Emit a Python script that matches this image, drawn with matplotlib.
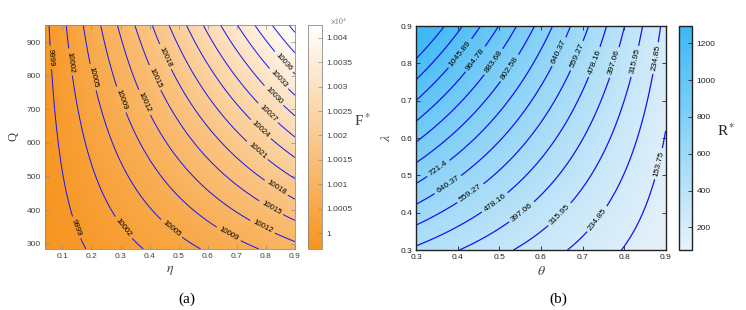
import numpy as np
import matplotlib
matplotlib.use("Agg")
import matplotlib.pyplot as plt
from matplotlib.colors import LinearSegmentedColormap

plt.rcParams["font.family"] = ["Liberation Sans", "DejaVu Sans"]
plt.rcParams["mathtext.fontset"] = "stix"

# ---------------------------------------------------------------------------
# panel (a): F* over eta and Q  (level lines follow eta*Q = const)
# ---------------------------------------------------------------------------
eta_range = [0.04, 0.9]
Q_range = [284, 952]
F_base = 9996.6          # F* ~ base + slope * eta * Q
F_slope = 0.0545
F_lim = [9996.8, 10042.6]
F_levels = [9999.4, 10002.45, 10005.5, 10008.6, 10011.6, 10014.7, 10017.8,
            10020.8, 10023.9, 10026.9, 10030.0, 10033.0, 10036.1, 10039.2, 10042.2]
F_labels = ["9999", "10002", "10005", "10009", "10012", "10015", "10018",
            "10021", "10024", "10027", "10030", "10033", "10036", "10039", "10042"]
F_ticks = [10000, 10005, 10010, 10015, 10020, 10025, 10030, 10035, 10040]
F_ticklabels = ["1", "1.0005", "1.001", "1.0015", "1.002", "1.0025", "1.003",
                "1.0035", "1.004"]
# (level index, eta, Q) where each label sits in the reference
F_label_spots = [(0, 0.054, 854), (0, 0.146, 348), (1, 0.116, 840), (1, 0.302, 343),
                 (2, 0.192, 795), (2, 0.462, 334), (3, 0.306, 730), (3, 0.676, 334),
                 (4, 0.382, 721), (4, 0.790, 352), (5, 0.417, 795), (5, 0.807, 393),
                 (6, 0.444, 854), (6, 0.824, 453), (7, 0.755, 566), (8, 0.762, 625),
                 (9, 0.779, 670), (10, 0.803, 724), (11, 0.817, 774), (12, 0.838, 828)]

# ---------------------------------------------------------------------------
# panel (b): R* over theta and lambda  (level lines follow lambda*(1-theta))
# ---------------------------------------------------------------------------
theta_range = [0.3, 0.9]
lam_range = [0.3, 0.9]
R_base = 25.0
R_slope = 2080.0
R_lim = [77, 1294]
R_levels = [153.75, 234.85, 315.95, 397.06, 478.16, 559.27, 640.37, 721.47,
            802.58, 883.68, 964.78, 1045.89, 1126.99, 1208.1]
R_labels = ["153.75", "234.85", "315.95", "397.06", "478.16", "559.27", "640.37",
            "721.4", "802.58", "883.68", "964.78", "1045.89", "1126.99", "1208.1"]
R_ticks = [200, 400, 600, 800, 1000, 1200]
# (level index, theta, lambda)
R_label_spots = [(11, 0.412, 0.822), (10, 0.453, 0.804), (9, 0.497, 0.796),
                 (8, 0.533, 0.782), (6, 0.651, 0.828), (5, 0.694, 0.818),
                 (4, 0.737, 0.801), (3, 0.783, 0.801), (2, 0.831, 0.804),
                 (1, 0.881, 0.814), (7, 0.357, 0.514), (6, 0.376, 0.474),
                 (5, 0.434, 0.447), (4, 0.489, 0.428), (3, 0.554, 0.402),
                 (2, 0.646, 0.394), (1, 0.730, 0.386), (0, 0.874, 0.533)]

ORANGE = LinearSegmentedColormap.from_list("orw", ["#F7941E", "#FFFFFF"])
SKY = LinearSegmentedColormap.from_list("sky", ["#E8F2FA", "#3BB8F6"])
LINE = "#1414F0"


def snap(cs, spots, xr, yr):
    # move each read label spot onto its own level line
    out = []
    for i, x, y in spots:
        v = cs.get_paths()[i].vertices
        d = ((v[:, 0] - x) / (xr[1] - xr[0])) ** 2 + ((v[:, 1] - y) / (yr[1] - yr[0])) ** 2
        out.append(tuple(v[np.argmin(d)]))
    return out


fig = plt.figure(figsize=(7.46, 3.10), dpi=100)

# ---- panel (a)
ax1 = fig.add_axes([0.0603, 0.197, 0.3351, 0.7226])
cax1 = fig.add_axes([0.4129, 0.197, 0.0188, 0.7226])
eta = np.linspace(eta_range[0], eta_range[1], 400)
Q = np.linspace(Q_range[0], Q_range[1], 400)
E, QQ = np.meshgrid(eta, Q)
F = F_base + F_slope * E * QQ
im1 = ax1.imshow(F, origin="lower", aspect="auto", cmap=ORANGE,
                 extent=[eta_range[0], eta_range[1], Q_range[0], Q_range[1]],
                 vmin=F_lim[0], vmax=F_lim[1], interpolation="bilinear")
cs1 = ax1.contour(E, QQ, F, levels=F_levels, colors=LINE, linewidths=0.7)
ax1.clabel(cs1, fmt=dict(zip(F_levels, F_labels)),
           manual=snap(cs1, F_label_spots, eta_range, Q_range),
           inline=True, inline_spacing=3, fontsize=5.6, colors="black")
ax1.set_xlim(eta_range)
ax1.set_ylim(Q_range)
ax1.set_xticks([0.1, 0.2, 0.3, 0.4, 0.5, 0.6, 0.7, 0.8, 0.9])
ax1.set_yticks([300, 400, 500, 600, 700, 800, 900])
ax1.tick_params(direction="in", length=3, width=0.5, labelsize=6, pad=3,
                colors="#8a8a8a", labelcolor="#404040", top=True, right=True)
for s in ax1.spines.values():
    s.set_color("#8a8a8a")
    s.set_linewidth(0.6)
ax1.set_xlabel(r"$\eta$", fontsize=10, labelpad=2, color="#404040")
ax1.set_ylabel("Q", fontsize=9, family="Liberation Serif", labelpad=5, color="#404040")

cb1 = fig.colorbar(im1, cax=cax1)
cb1.set_ticks(F_ticks)
cb1.set_ticklabels(F_ticklabels)
cb1.ax.tick_params(direction="in", length=3, width=0.5, labelsize=6, pad=3,
                   colors="#8a8a8a", labelcolor="#404040")
cb1.outline.set_edgecolor("#8a8a8a")
cb1.outline.set_linewidth(0.6)
fig.text(0.442, 0.935, r"$\times10^4$", ha="left", va="center",
         fontsize=5.5, color="#707070")
fig.text(0.4745, 0.61, r"F$^*$", fontsize=11, family="Liberation Serif",
         ha="left", va="center", color="#404040")

# ---- panel (b)
ax2 = fig.add_axes([0.558, 0.1935, 0.3343, 0.7226])
cax2 = fig.add_axes([0.9098, 0.1935, 0.0182, 0.7226])
th = np.linspace(theta_range[0], theta_range[1], 400)
la = np.linspace(lam_range[0], lam_range[1], 400)
TH, LA = np.meshgrid(th, la)
R = R_base + R_slope * LA * (1 - TH)
im2 = ax2.imshow(R, origin="lower", aspect="auto", cmap=SKY,
                 extent=[theta_range[0], theta_range[1], lam_range[0], lam_range[1]],
                 vmin=R_lim[0], vmax=R_lim[1], interpolation="bilinear")
cs2 = ax2.contour(TH, LA, R, levels=R_levels, colors=LINE, linewidths=0.9)
ax2.clabel(cs2, fmt=dict(zip(R_levels, R_labels)),
           manual=snap(cs2, R_label_spots, theta_range, lam_range),
           inline=True, inline_spacing=3, fontsize=6.1, colors="black")
ax2.set_xlim(theta_range)
ax2.set_ylim(lam_range)
ax2.set_xticks([0.3, 0.4, 0.5, 0.6, 0.7, 0.8, 0.9])
ax2.set_yticks([0.3, 0.4, 0.5, 0.6, 0.7, 0.8, 0.9])
ax2.tick_params(direction="in", length=3, width=0.6, labelsize=6, pad=3,
                colors="#222222", top=True, right=True)
for s in ax2.spines.values():
    s.set_color("#222222")
    s.set_linewidth(1.0)
ax2.set_xlabel(r"$\theta$", fontsize=10, labelpad=2, color="#404040")
ax2.set_ylabel(r"$\lambda$", fontsize=10, labelpad=5, color="#404040")

cb2 = fig.colorbar(im2, cax=cax2)
cb2.set_ticks(R_ticks)
cb2.ax.tick_params(direction="in", length=3, width=0.6, labelsize=6, pad=3,
                   colors="#222222")
cb2.outline.set_edgecolor("#222222")
cb2.outline.set_linewidth(1.0)
fig.text(0.961, 0.58, r"R$^*$", fontsize=11, family="Liberation Serif",
         ha="left", va="center", color="#222222")

# ---- panel captions
fig.text(0.250, 0.035, "(a)", fontsize=11, family="Liberation Serif",
         ha="center", va="center")
fig.text(0.748, 0.035, "(b)", fontsize=11, family="Liberation Serif",
         ha="center", va="center")

fig.savefig("out.png", dpi=100)
